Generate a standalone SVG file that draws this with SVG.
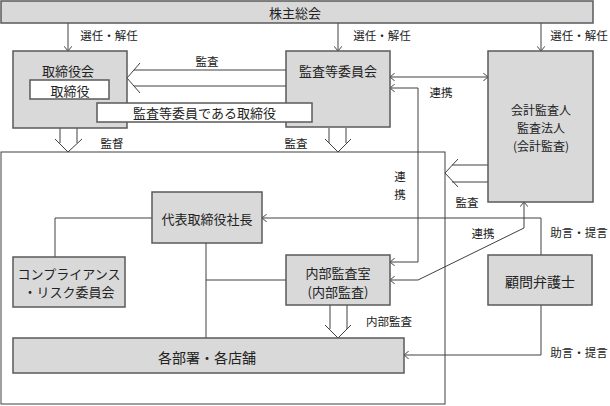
<svg xmlns="http://www.w3.org/2000/svg" width="610" height="406" viewBox="0 0 610 406">
<defs>
<style>
.box{fill:#d9d9d9;stroke:#5a5a5a;stroke-width:1.5}
.wbox{fill:#ffffff;stroke:#5a5a5a;stroke-width:1.5}
.ln{fill:none;stroke:#404040;stroke-width:1}
.t{font-family:"Noto Sans CJK JP","Noto Sans",sans-serif;fill:#222;text-anchor:middle;dominant-baseline:central}
.s13{font-size:13px}
.s125{font-size:12.5px}
.s14{font-size:14px}
.s12{font-size:11.5px}
</style>
<marker id="ah" viewBox="0 0 6 10" refX="6" refY="5" markerWidth="5" markerHeight="8" markerUnits="userSpaceOnUse" orient="auto-start-reverse">
<path d="M0,0 L6,5 L0,10" fill="none" stroke="#404040" stroke-width="1.2"/>
</marker>
</defs>
<rect width="610" height="406" fill="#ffffff"/>

<g id="enclosure">
<rect x="1" y="152" width="444" height="252" fill="#ffffff" stroke="#404040" stroke-width="1"/>
</g>

<g id="connectors">
<path class="ln" d="M68,23 V51" marker-end="url(#ah)"/>
<path class="ln" d="M338,23 V51" marker-end="url(#ah)"/>
<path class="ln" d="M541,23 V51" marker-end="url(#ah)"/>
<path class="ln" d="M286,70 H134 M286,86 H134 M140,63 L127,78 L140,93"/>
<path class="ln" d="M60,128 V143 M77,128 V143 M55,139 L68,152 L82,139"/>
<path class="ln" d="M329,128 V143 M346,128 V143 M325,139 L338,152 L351,139"/>
<path class="ln" d="M488,165 H452 M488,182 H452 M458,159 L445,173 L458,187"/>
<path class="ln" d="M330,305 V329 M347,305 V329 M325,325 L338,338 L351,325"/>
<path class="ln" d="M390,77 H488" marker-start="url(#ah)" marker-end="url(#ah)"/>
<path class="ln" d="M390,88 H418 V262 H390" marker-start="url(#ah)" marker-end="url(#ah)"/>
<path class="ln" d="M390,280 H418 L524,228 V202" marker-start="url(#ah)" marker-end="url(#ah)"/>
<path class="ln" d="M541,255 V218 H262" marker-end="url(#ah)"/>
<path class="ln" d="M541,305 V355 H404" marker-end="url(#ah)"/>
<path class="ln" d="M152,218 H55 V257"/>
<path class="ln" d="M206,243 V338"/>
<path class="ln" d="M206,280 H286"/>
</g>

<g id="labels">
<text class="t s12" x="109" y="35">選任・解任</text>
<text class="t s12" x="382" y="35">選任・解任</text>
<text class="t s12" x="579" y="35">選任・解任</text>
<text class="t s12" x="207" y="61">監査</text>
<text class="t s12" x="112" y="143">監督</text>
<text class="t s12" x="296" y="143">監査</text>
<text class="t s12" x="441" y="92">連携</text>
<text class="t s12" x="400" y="176">連</text>
<text class="t s12" x="400" y="194">携</text>
<text class="t s12" x="467" y="202">監査</text>
<text class="t s12" x="483" y="233">連携</text>
<text class="t s12" x="579" y="232">助言・提言</text>
<text class="t s12" x="389" y="321">内部監査</text>
<text class="t s12" x="579" y="352">助言・提言</text>
</g>

<g id="shareholders">
<rect class="box" x="1" y="1" width="592" height="22"/>
<text class="t s13" x="295" y="12">株主総会</text>
</g>

<g id="board">
<rect class="box" x="13" y="51" width="114" height="77"/>
<text class="t s13" x="68" y="70">取締役会</text>
<rect class="wbox" x="30" y="80" width="79" height="19"/>
<text class="t s13" x="70" y="90">取締役</text>
</g>

<g id="audit-committee">
<rect class="box" x="286" y="51" width="104" height="76"/>
<text class="t s13" x="338" y="70">監査等委員会</text>
</g>

<g id="audit-committee-directors">
<rect class="wbox" x="97" y="103" width="215" height="19"/>
<text class="t s13" x="204.5" y="112.5">監査等委員である取締役</text>
</g>

<g id="accounting-auditor">
<rect class="box" x="488" y="51" width="105" height="151"/>
<text class="t" style="font-size:12px" x="541" y="109">会計監査人</text>
<text class="t" style="font-size:12px" x="541" y="127">監査法人</text>
<text class="t" style="font-size:12px" x="541" y="145">(会計監査)</text>
</g>

<g id="president">
<rect class="box" x="152" y="192" width="110" height="51"/>
<text class="t s13" x="207" y="218">代表取締役社長</text>
</g>

<g id="compliance">
<rect class="box" x="13" y="257" width="112" height="50"/>
<text class="t s13" x="69" y="273">コンプライアンス</text>
<text class="t s13" x="69" y="291">・リスク委員会</text>
</g>

<g id="internal-audit">
<rect class="box" x="286" y="255" width="104" height="50"/>
<text class="t s13" x="338" y="272">内部監査室</text>
<text class="t s13" x="338" y="291">(内部監査)</text>
</g>

<g id="legal-counsel">
<rect class="box" x="488" y="255" width="104" height="50"/>
<text class="t s14" x="540" y="281">顧問弁護士</text>
</g>

<g id="departments">
<rect class="box" x="13" y="338" width="391" height="35"/>
<text class="t s14" x="207" y="357">各部署・各店舗</text>
</g>
</svg>
